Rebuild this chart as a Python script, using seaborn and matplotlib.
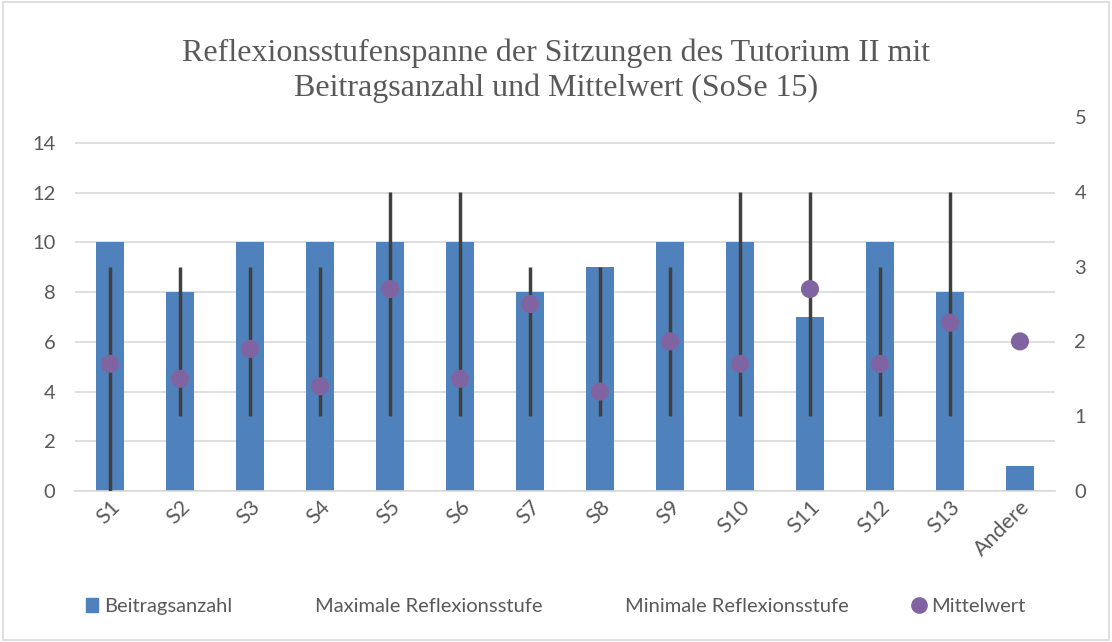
import numpy as np
import pandas as pd
import matplotlib
matplotlib.use("Agg")
import matplotlib.pyplot as plt
import seaborn as sns
from matplotlib.lines import Line2D
from matplotlib.patches import Rectangle

# data
sitzungen = ["S1", "S2", "S3", "S4", "S5", "S6", "S7", "S8", "S9", "S10", "S11", "S12", "S13", "Andere"]
beitragsanzahl = [10, 8, 10, 10, 10, 10, 8, 9, 10, 10, 7, 10, 8, 1]
max_stufe = [3, 3, 3, 3, 4, 4, 3, 3, 3, 4, 4, 3, 4, np.nan]
min_stufe = [0, 1, 1, 1, 1, 1, 1, 1, 1, 1, 1, 1, 1, np.nan]
mittelwert = [1.7, 1.5, 1.9, 1.4, 2.7, 1.5, 2.5, 1.33, 2.0, 1.7, 2.7, 1.7, 2.25, 2.0]

df = pd.DataFrame({"Sitzung": sitzungen, "Beitragsanzahl": beitragsanzahl,
                   "Max": max_stufe, "Min": min_stufe, "Mittelwert": mittelwert})

sns.set_theme(style="white")
plt.rcParams["font.family"] = ["Lato", "DejaVu Sans"]

bar_col = "#4F81BD"
line_col = "#404040"
dot_col = "#8064A2"
txt_col = "#595959"

fig = plt.figure(figsize=(11.12, 6.42), dpi=100)
ax = fig.add_axes([0.0674, 0.2352, 0.8813, 0.5826])

sns.barplot(data=df, x="Sitzung", y="Beitragsanzahl", color=bar_col, width=0.4,
            saturation=1, linewidth=0, ax=ax, zorder=2)
ax.set_ylim(0, 15.05)
ax.set_yticks(range(0, 15, 2))
ax.set_xlim(-0.5, len(sitzungen) - 0.5)
ax.grid(axis="y", color="#D9D9D9", linewidth=1.2, zorder=0)
ax.set_axisbelow(True)
ax.set_xlabel("")
ax.set_ylabel("")
for s in ["top", "left", "right"]:
    ax.spines[s].set_visible(False)
ax.spines["bottom"].set_color("#D9D9D9")
ax.spines["bottom"].set_linewidth(1.2)
ax.set_xticks(np.arange(-0.5, len(sitzungen)), minor=True)
ax.tick_params(axis="x", which="minor", length=6, color="#D9D9D9", width=1.2)
ax.tick_params(axis="x", which="major", length=0, labelsize=15.5, labelcolor=txt_col, pad=4)
ax.tick_params(axis="y", length=0, labelsize=14.5, labelcolor=txt_col, pad=14)
plt.setp(ax.get_xticklabels(), rotation=45, ha="right", rotation_mode="anchor")

ax2 = ax.twinx()
x = np.arange(len(sitzungen))
ax2.vlines(x, df["Min"], df["Max"], color=line_col, linewidth=2.5, zorder=3)
sns.scatterplot(x=x, y=df["Mittelwert"], color=dot_col, s=170, edgecolor="none",
                ax=ax2, zorder=4)
ax2.set_ylim(0, 5)
ax2.set_yticks(range(0, 6))
ax2.set_ylabel("")
for s in ax2.spines.values():
    s.set_visible(False)
ax2.tick_params(axis="y", length=0, labelsize=14.5, labelcolor=txt_col, pad=14)

fig.suptitle("Reflexionsstufenspanne der Sitzungen des Tutorium II mit\nBeitragsanzahl und Mittelwert (SoSe 15)",
             y=0.94, va="top", fontsize=23, color=txt_col, family="Liberation Serif", linespacing=1.25)

handles = [
    Rectangle((0, 0), 1, 1, color=bar_col),
    Line2D([], [], linestyle="none"),
    Line2D([], [], linestyle="none"),
    Line2D([], [], marker="o", linestyle="none", color=dot_col, markersize=11),
]
labels = ["Beitragsanzahl", "Maximale Reflexionsstufe", "Minimale Reflexionsstufe", "Mittelwert"]
leg = fig.legend(handles, labels, loc="center", bbox_to_anchor=(0.5, 0.055), ncol=4,
                 frameon=False, fontsize=14.5, handlelength=0.6, handletextpad=0.3,
                 columnspacing=3.2)
for t in leg.get_texts():
    t.set_color(txt_col)

fig.patches.append(Rectangle((0.003, 0.003), 0.994, 0.994, transform=fig.transFigure,
                             fill=False, edgecolor="#D9D9D9", linewidth=1.2))

fig.savefig("out.png", dpi=100)
